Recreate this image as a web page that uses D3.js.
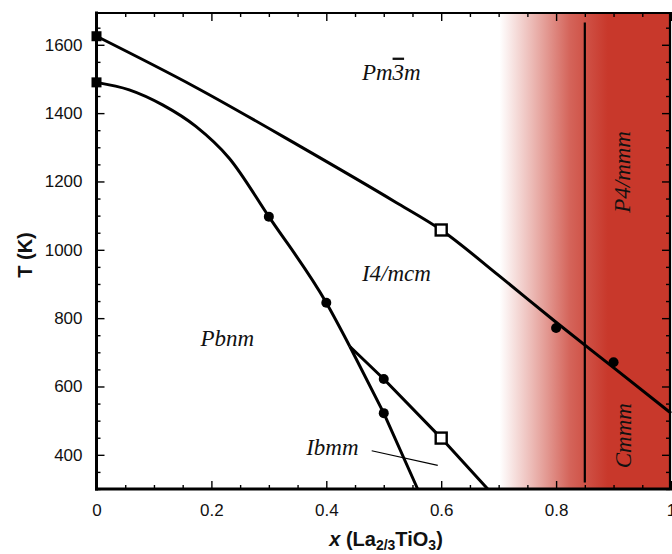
<!DOCTYPE html>
<html>
<head>
<meta charset="utf-8">
<script src="https://cdn.jsdelivr.net/npm/d3@7"></script>
<style>
  html, body { margin: 0; padding: 0; background: #fff; }
  svg { display: block; }
</style>
</head>
<body>
<svg id="chart" width="672" height="554"></svg>
<script>
// Phase boundaries of the (1-x)SrTiO3 - x La2/3TiO3 system

// upper transition (cubic Pm-3m -> tetragonal)
const upperX = [0, 0.17, 0.35, 0.52, 0.6, 0.70, 0.8, 0.9, 1.0];
const upperT = [1625, 1478, 1307, 1140, 1058, 925, 788, 655, 522];

// lower transition (I4/mcm -> Pbnm), down to the branch point
const lowerX = [0, 0.057, 0.115, 0.173, 0.231, 0.3, 0.4, 0.441];
const lowerT = [1490, 1468, 1424, 1361, 1268, 1097, 845, 717];

// Pbnm / Ibmm boundary
const branchLeftX = [0.441, 0.5, 0.559];
const branchLeftT = [717, 522, 300];

// Ibmm / I4/mcm boundary
const branchRightX = [0.441, 0.5, 0.6, 0.681];
const branchRightT = [717, 622, 449, 300];

// measured points
const filledSquareX = [0, 0];
const filledSquareT = [1625, 1490];
const openSquareX = [0.6, 0.6];
const openSquareT = [1058, 449];
const circleX = [0.3, 0.4, 0.5, 0.5, 0.8, 0.9];
const circleT = [1097, 845, 622, 522, 771, 671];

// vertical boundary P4/mmm | Cmmm region
const splitX = 0.85;
const splitT = [319, 1665];

// axis ticks
const xMajorTicks = [0, 0.2, 0.4, 0.6, 0.8, 1];
const xTickLabels = ["0", "0.2", "0.4", "0.6", "0.8", "1"];
const yMajorTicks = [400, 600, 800, 1000, 1200, 1400, 1600];
const yTickLabels = ["400", "600", "800", "1000", "1200", "1400", "1600"];

const svg = d3.select("#chart");
const padL = 96.5, padR = 671, padT = 13, padB = 489;

const x = d3.scaleLinear().domain([0, 1]).range([padL, padR]);
const y = d3.scaleLinear().domain([300, 1693]).range([padB, padT]);

const zip = (xs, ts) => xs.map((v, i) => [v, ts[i]]);

// shaded region on the La-rich side
const defs = svg.append("defs");
const grad = defs.append("linearGradient")
  .attr("id", "redShade")
  .attr("gradientUnits", "userSpaceOnUse")
  .attr("x1", x(0.702)).attr("x2", x(0.89))
  .attr("y1", 0).attr("y2", 0);
[[0, 0], [0.3, 0.35], [0.65, 0.78], [1, 1]].forEach(([o, a]) => {
  grad.append("stop").attr("offset", o)
    .attr("stop-color", "#c8382b").attr("stop-opacity", a);
});
svg.append("rect")
  .attr("x", x(0.7)).attr("y", padT)
  .attr("width", x(1) - x(0.7)).attr("height", padB - padT)
  .attr("fill", "url(#redShade)");

// axes: ticks on all four sides pointing inward
const xMinor = d3.range(0, 1.0001, 0.05).filter(v => Math.abs(v * 5 - Math.round(v * 5)) > 1e-6);
const yMinor = d3.range(300, 1693, 50).filter(v => v % 200 !== 0);

function styleAxis(g) {
  g.select(".domain").remove();
  g.selectAll(".tick line").attr("stroke", "#000").attr("stroke-width", 1.4);
  g.selectAll("text")
    .attr("fill", "#111")
    .style("font-family", "'Liberation Sans', Arial, sans-serif")
    .style("font-size", "17px");
}

svg.append("g").attr("transform", `translate(0,${padB})`)
  .call(d3.axisBottom(x).tickValues(xMajorTicks)
    .tickFormat((d, i) => xTickLabels[i]).tickSizeInner(-8).tickSizeOuter(0).tickPadding(15))
  .call(styleAxis);
svg.append("g").attr("transform", `translate(0,${padB})`)
  .call(d3.axisBottom(x).tickValues(xMinor).tickFormat("").tickSizeInner(-4).tickSizeOuter(0))
  .call(styleAxis);
svg.append("g").attr("transform", `translate(0,${padT})`)
  .call(d3.axisTop(x).tickValues(xMajorTicks).tickFormat("").tickSizeInner(-8).tickSizeOuter(0))
  .call(styleAxis);
svg.append("g").attr("transform", `translate(0,${padT})`)
  .call(d3.axisTop(x).tickValues(xMinor).tickFormat("").tickSizeInner(-4).tickSizeOuter(0))
  .call(styleAxis);

svg.append("g").attr("transform", `translate(${padL},0)`)
  .call(d3.axisLeft(y).tickValues(yMajorTicks)
    .tickFormat((d, i) => yTickLabels[i]).tickSizeInner(-8).tickSizeOuter(0).tickPadding(14))
  .call(styleAxis);
svg.append("g").attr("transform", `translate(${padL},0)`)
  .call(d3.axisLeft(y).tickValues(yMinor).tickFormat("").tickSizeInner(-4).tickSizeOuter(0))
  .call(styleAxis);
svg.append("g").attr("transform", `translate(${x(1) - 1},0)`)
  .call(d3.axisRight(y).tickValues(yMajorTicks).tickFormat("").tickSizeInner(-8).tickSizeOuter(0))
  .call(styleAxis);
svg.append("g").attr("transform", `translate(${x(1) - 1},0)`)
  .call(d3.axisRight(y).tickValues(yMinor).tickFormat("").tickSizeInner(-4).tickSizeOuter(0))
  .call(styleAxis);

// frame
const frame = svg.append("g").attr("stroke", "#000").attr("stroke-linecap", "square");
frame.append("line").attr("x1", padL).attr("x2", padL).attr("y1", padT).attr("y2", padB).attr("stroke-width", 3);
frame.append("line").attr("x1", padL).attr("x2", padR).attr("y1", padB).attr("y2", padB).attr("stroke-width", 3);
frame.append("line").attr("x1", padL).attr("x2", padR).attr("y1", padT).attr("y2", padT).attr("stroke-width", 2.2);
frame.append("line").attr("x1", x(1) - 1).attr("x2", x(1) - 1).attr("y1", padT).attr("y2", padB).attr("stroke-width", 2.2);

// boundaries
const smooth = d3.line().x(d => x(d[0])).y(d => y(d[1])).curve(d3.curveMonotoneX);
const straight = d3.line().x(d => x(d[0])).y(d => y(d[1]));
const lines = svg.append("g").attr("fill", "none").attr("stroke", "#000")
  .attr("stroke-width", 3).attr("stroke-linejoin", "round");
lines.append("path").attr("d", smooth(zip(upperX, upperT)));
lines.append("path").attr("d", smooth(zip(lowerX, lowerT)));
lines.append("path").attr("d", straight(zip(branchLeftX, branchLeftT)));
lines.append("path").attr("d", straight(zip(branchRightX, branchRightT)));

svg.append("line")
  .attr("x1", x(splitX)).attr("x2", x(splitX))
  .attr("y1", y(splitT[0])).attr("y2", y(splitT[1]))
  .attr("stroke", "#000").attr("stroke-width", 2.2);

// leader line for the Ibmm label
svg.append("line")
  .attr("x1", x(0.479)).attr("y1", y(412))
  .attr("x2", x(0.594)).attr("y2", y(369))
  .attr("stroke", "#000").attr("stroke-width", 1.2);

// markers
svg.append("g").selectAll("rect")
  .data(zip(filledSquareX, filledSquareT)).join("rect")
  .attr("x", d => x(d[0]) - 5).attr("y", d => y(d[1]) - 5)
  .attr("width", 10).attr("height", 10).attr("fill", "#000");
svg.append("g").selectAll("rect")
  .data(zip(openSquareX, openSquareT)).join("rect")
  .attr("x", d => x(d[0]) - 5.5).attr("y", d => y(d[1]) - 5.5)
  .attr("width", 11).attr("height", 11)
  .attr("fill", "#fff").attr("stroke", "#000").attr("stroke-width", 2.4);
svg.append("g").selectAll("circle")
  .data(zip(circleX, circleT)).join("circle")
  .attr("cx", d => x(d[0])).attr("cy", d => y(d[1])).attr("r", 5)
  .attr("fill", "#000");

// phase labels
const serif = "'Liberation Serif', 'Times New Roman', serif";
const phase = svg.append("g")
  .style("font-family", serif).style("font-style", "italic")
  .style("font-size", "23px").attr("fill", "#111");

const pm3m = phase.append("text").attr("x", x(0.462)).attr("y", y(1498));
pm3m.append("tspan").text("Pm");
pm3m.append("tspan").style("text-decoration", "overline").text("3");
pm3m.append("tspan").text("m");

phase.append("text").attr("x", x(0.462)).attr("y", y(909)).text("I4/mcm");
phase.append("text").attr("x", x(0.181)).attr("y", y(719)).text("Pbnm");
phase.append("text").attr("x", x(0.365)).attr("y", y(400)).text("Ibmm");
phase.append("text")
  .attr("transform", `translate(${x(0.929)},${y(1228)}) rotate(-90)`)
  .attr("text-anchor", "middle").text("P4/mmm");
phase.append("text")
  .attr("transform", `translate(${x(0.93)},${y(456)}) rotate(-90)`)
  .attr("text-anchor", "middle").text("Cmmm");

// axis titles
const sans = "'Liberation Sans', Arial, sans-serif";
svg.append("text")
  .attr("transform", "translate(31.5,255) rotate(-90)")
  .attr("text-anchor", "middle")
  .style("font-family", sans).style("font-weight", "bold").style("font-size", "20px")
  .attr("fill", "#111").text("T (K)");

const xt = svg.append("text")
  .attr("x", 386).attr("y", 546).attr("text-anchor", "middle")
  .style("font-family", sans).style("font-weight", "bold").style("font-size", "20px")
  .attr("fill", "#111");
xt.append("tspan").style("font-style", "italic").text("x");
xt.append("tspan").text(" (La");
xt.append("tspan").attr("dy", 4).style("font-size", "14px").text("2/3");
xt.append("tspan").attr("dy", -4).text("TiO");
xt.append("tspan").attr("dy", 4).style("font-size", "14px").text("3");
xt.append("tspan").attr("dy", -4).text(")");
</script>
</body>
</html>
